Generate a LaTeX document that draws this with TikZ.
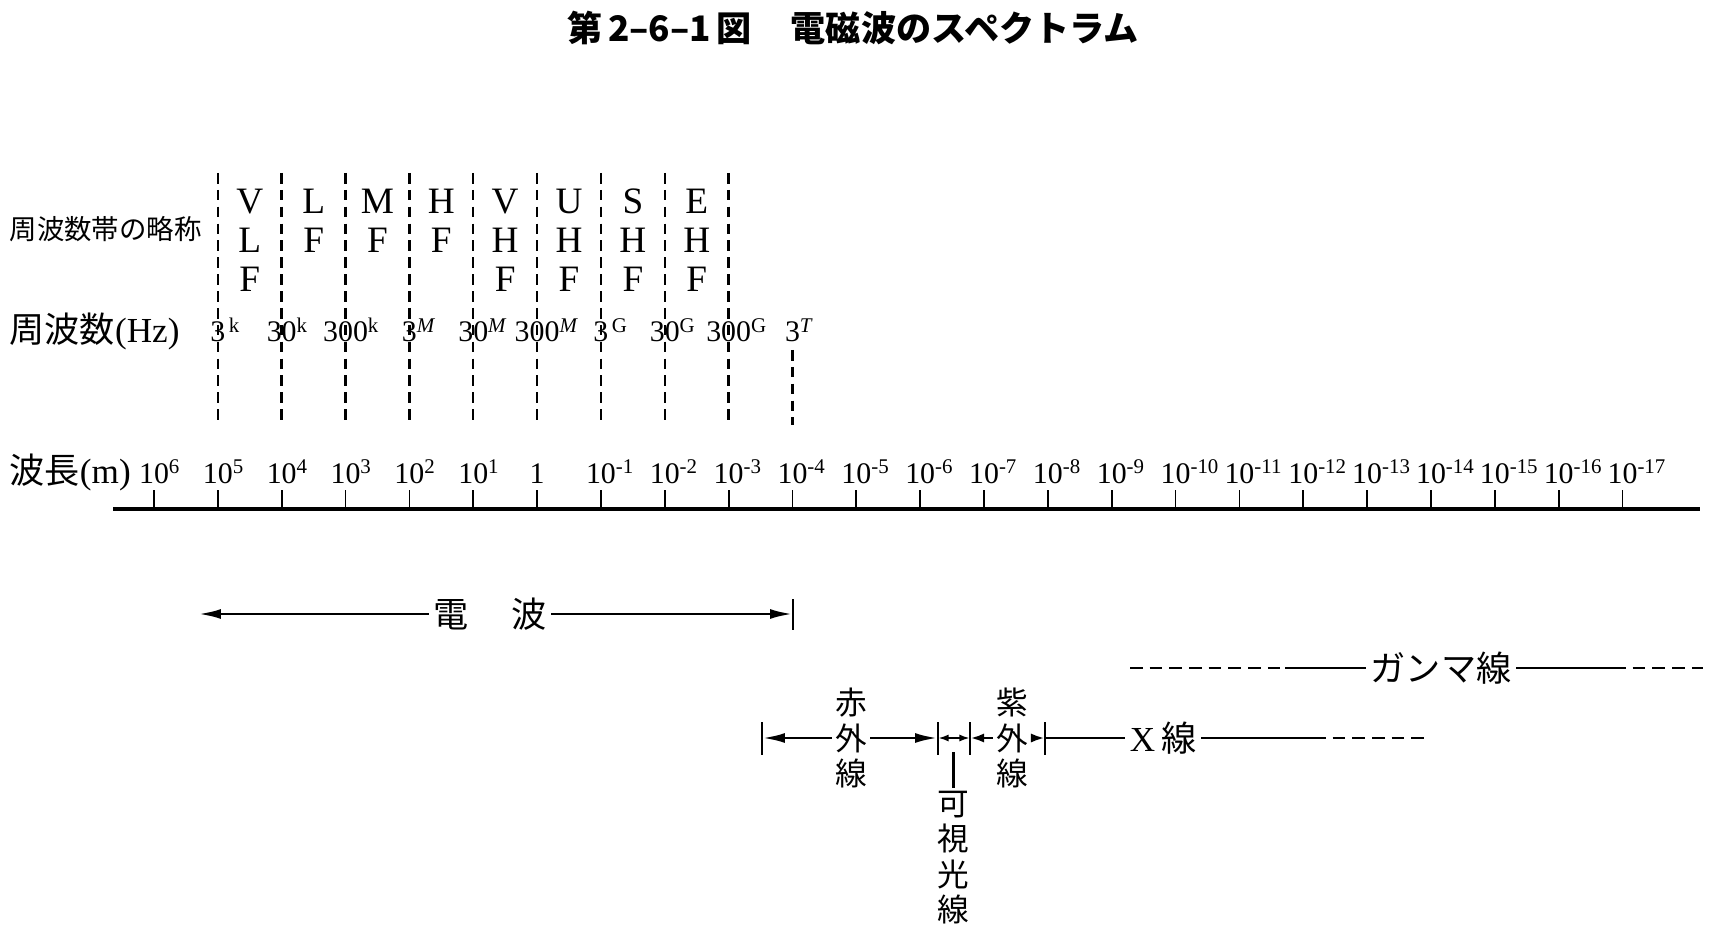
\documentclass[tikz,border=0pt]{standalone}
\usepackage{fontspec}
\setmainfont{Liberation Serif}
\newfontfamily\jpfont{Noto Sans CJK JP}
\usetikzlibrary{arrows.meta,positioning}
\tikzset{
  axisline/.style={line width=1.4pt},
  tickline/.style={line width=0.5pt},
  bandsep/.style={line width=0.7pt,dash pattern=on 3pt off 1.8pt},
  rangeline/.style={line width=0.85pt},
  rangearr/.style={rangeline,-{Latex[length=6.5pt,width=2.8pt]}},
  shortarr/.style={rangeline,-{Latex[length=4pt,width=2.6pt]}},
  rangebar/.style={line width=0.6pt},
  tailline/.style={rangeline,dash pattern=on 3.6pt off 2pt},
  numlabel/.style={font=\fontsize{8.5}{10}\selectfont,inner sep=0pt,anchor=base},
  bandletter/.style={font=\fontsize{10.6}{11}\selectfont,inner sep=0pt,text height=7pt,text depth=0pt},
  rowlabel/.style={font=\fontsize{10}{12}\selectfont,inner sep=0pt,anchor=west},
  vtext/.style={font=\jpfont\fontsize{9}{10}\selectfont,align=center,inner sep=0.8pt},
  htext/.style={font=\jpfont\fontsize{10}{12}\selectfont,inner sep=1.2pt}
}

\begin{document}
\begin{tikzpicture}[x=0.1mm,y=-0.1mm]
  \useasboundingbox (0,0) rectangle (1728,935);
  \node[font=\jpfont\bfseries\fontsize{10}{12}\selectfont] (title) at (853,28)
    {第\,2–6–1\,図\hspace{1.1em}電磁波のスペクトラム};

  % row headings
  \node[rowlabel,font=\jpfont\fontsize{7.8}{9}\selectfont] (abbr) at (9,229) {周波数帯の略称};
  \node[rowlabel] (freq) at (9,331) {{\jpfont 周波数}(Hz)};
  \node[rowlabel] (wlen) at (9,472) {{\jpfont 波長}(m)};

  % wavelength scale
  \coordinate (axl) at (113,509);
  \coordinate (axr) at (1700,509);
  \draw[axisline] (axl) -- (axr);
  \foreach \e [count=\i from 0] in {6,5,4,3,2,1,0,-1,-2,-3,-4,-5,-6,-7,-8,-9,-10,-11,-12,-13,-14,-15,-16,-17} {
    \coordinate (t\i) at ({154+63.85*\i},509);
    \draw[tickline] (t\i) -- ++(0,-19);
    \node[numlabel] (wl\i) at ({154+63.85*\i},483)
      {\ifnum\e=0 1\else 10\rlap{\textsuperscript{\e}}\fi};
  }

  % frequency bands
  \foreach \i in {1,...,9}
    \draw[bandsep] ({154+63.85*\i},173) -- ({154+63.85*\i},425);
  \draw[bandsep] ({154+63.85*10},350) -- ({154+63.85*10},425);
  \foreach \b [count=\i] in {{V,L,F},{L,F},{M,F},{H,F},{V,H,F},{U,H,F},{S,H,F},{E,H,F}}
    \foreach \ch [count=\j] in \b
      \node[bandletter] (band\i-\j) at ({154+63.85*(\i+0.5)},{201+39*(\j-1)}) {\ch};
  \foreach \f/\u [count=\i] in {3/\,k,30/k,300/k,3/\textit{M},30/\textit{M},300/\textit{M},3/\,G,30/G,300/G,3/\textit{T}}
    \node[numlabel] (fr\i) at ({154+63.85*\i},342) {\f\rlap{\textsuperscript{\u}}};

  % radio waves
  \node[htext] (radio) at (490,614) {電\hspace{1.2em}波};
  \coordinate (radL) at (198,614);
  \coordinate (radR) at (793,614);
  \draw[rangearr] (radio) -- (radL);
  \draw[rangearr] (radio) -- (radR);
  \draw[rangebar] (radR) ++(0,-15) -- ++(0,31);

  % light and x-rays
  \coordinate (irL) at (762,738);
  \coordinate (irR) at (938,738);
  \coordinate (uvL) at (970,738);
  \coordinate (uvR) at (1045,738);
  \node[vtext] (ir) at (851,738) {赤\\外\\線};
  \node[vtext] (uv) at (1012,738) {紫\\外\\線};
  \node[vtext,anchor=north] (vis) at (953,788) {可\\視\\光\\線};
  \draw[rangearr] (ir) -- (irL);
  \draw[rangearr] (ir) -- (irR);
  \draw[rangeline,{Latex[length=3pt,width=2pt]}-{Latex[length=3pt,width=2pt]}] (irR) -- (uvL);
  \draw[shortarr] (uv) -- (uvL);
  \draw[shortarr] (uv) -- (uvR);
  \foreach \c in {irL,irR,uvL,uvR}
    \draw[rangebar] (\c) ++(0,-16) -- ++(0,33);
  \coordinate (vispt) at (953,752);
  \draw[rangeline] (vispt) -- (vis);

  \node[htext] (xray) at (1163,738) {{\rmfamily X}\,線};
  \coordinate (xrM) at (1313,738);
  \coordinate (xrE) at (1430,738);
  \draw[rangeline] (uvR) -- (xray);
  \draw[rangeline] (xray) -- (xrM);
  \draw[tailline] (xrM) -- (xrE);

  % gamma rays
  \node[htext] (gamma) at (1441,668) {ガンマ線};
  \coordinate (gmA) at (1130,668);
  \coordinate (gmB) at (1285,668);
  \coordinate (gmC) at (1613,668);
  \coordinate (gmD) at (1703,668);
  \draw[tailline] (gmA) -- (gmB);
  \draw[rangeline] (gmB) -- (gamma);
  \draw[rangeline] (gamma) -- (gmC);
  \draw[tailline] (gmC) -- (gmD);
\end{tikzpicture}
\end{document}
